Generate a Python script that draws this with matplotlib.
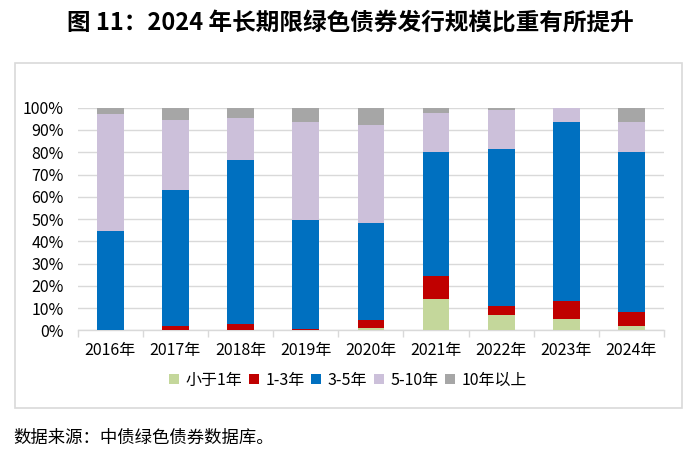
import numpy as np
import matplotlib.pyplot as plt
from matplotlib.patches import Rectangle

plt.rcParams['font.family'] = ['Noto Sans CJK SC', 'DejaVu Sans']

# DATOS
anios = ['2016年', '2017年', '2018年', '2019年', '2020年',
         '2021年', '2022年', '2023年', '2024年']
series = ['小于1年', '1-3年', '3-5年', '5-10年', '10年以上']
menor1 = [0.0, 0.0, 0.0, 0.0, 1.3, 14.2, 6.9, 5.2, 2.1]
de1a3 = [0.0, 1.9, 3.0, 0.6, 3.3, 10.1, 4.3, 8.1, 6.1]
de3a5 = [44.6, 61.3, 73.5, 49.1, 43.6, 55.8, 70.1, 80.1, 72.0]
de5a10 = [52.6, 31.4, 19.0, 44.0, 44.0, 17.7, 17.5, 6.3, 13.2]
mas10 = [2.8, 5.4, 4.5, 6.3, 7.8, 2.2, 1.2, 0.3, 6.6]
colores = ['#c4d79b', '#c00000', '#0070c0', '#ccc0da', '#a6a6a6']

titulo = '图 11：2024 年长期限绿色债券发行规模比重有所提升'
fuente = '数据来源：中债绿色债券数据库。'

# GRAFICA
fig = plt.figure(figsize=(7.0, 4.59), dpi=100)
ax = fig.add_axes([0.111, 0.280, 0.8376, 0.4854])

x = np.arange(len(anios))
base = np.zeros(len(anios))
for nombre, valores, color in zip(series, [menor1, de1a3, de3a5, de5a10, mas10], colores):
    v = np.array(valores) / 100
    ax.bar(x, v, bottom=base, width=0.41, color=color, label=nombre, zorder=3)
    base = base + v

ax.set_xlim(-0.5, len(anios) - 0.5)
ax.set_ylim(0, 1)
ax.set_yticks(np.arange(0, 1.01, 0.1))
ax.set_yticklabels(['%d%%' % (i * 10) for i in range(11)], fontsize=11.5)
ax.yaxis.grid(True, color='#d9d9d9', linewidth=1)
ax.tick_params(axis='y', length=0, pad=10)

ax.set_xticks(x)
ax.set_xticklabels(anios, fontsize=11.5)
ax.set_xticks(np.arange(-0.5, len(anios)), minor=True)
ax.tick_params(axis='x', which='major', length=0, pad=8)
ax.tick_params(axis='x', which='minor', length=5, color='#d9d9d9', width=1)

for lado in ['top', 'right', 'left']:
    ax.spines[lado].set_visible(False)
ax.spines['bottom'].set_color('#d9d9d9')
ax.spines['bottom'].set_linewidth(1)

fig.legend(loc='center', bbox_to_anchor=(0.497, 0.172), ncol=5, frameon=False,
           fontsize=11.5, handlelength=0.65, handleheight=0.65, handletextpad=0.4,
           columnspacing=0.4)

# marco
fig.patches.append(Rectangle((0.0214, 0.111), 0.9526, 0.7524, transform=fig.transFigure,
                             fill=False, edgecolor='#d9d9d9', linewidth=1.2))

fig.text(0.5, 0.951, titulo, ha='center', va='center', fontsize=17, fontweight='bold')
fig.text(0.019, 0.046, fuente, ha='left', va='center', fontsize=12.5)

plt.savefig('out.png', dpi=100)
